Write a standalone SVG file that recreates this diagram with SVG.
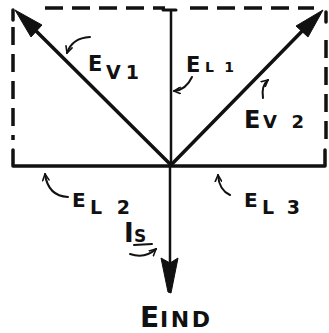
<svg xmlns="http://www.w3.org/2000/svg" width="329" height="333" viewBox="0 0 329 333">
<style>
.ln{stroke:#111;fill:none;stroke-linecap:round;stroke-linejoin:round}
.ds{stroke:#111;fill:none;stroke-width:3.5;stroke-dasharray:18 9}
.hd{fill:#111;stroke:#111;stroke-width:1;stroke-linejoin:round}
.cv{stroke:#111;fill:none;stroke-width:2;stroke-linecap:round;marker-end:url(#ch)}
.t{font-family:"DejaVu Sans","Liberation Sans",sans-serif;font-weight:bold;fill:#111}
</style>
<defs>
<marker id="ch" viewBox="0 0 10 10" refX="9" refY="5" markerWidth="4" markerHeight="4" orient="auto" markerUnits="strokeWidth">
<path d="M1,1 L9,5 L1,9" fill="none" stroke="#111" stroke-width="2" stroke-linecap="round"/>
</marker>
</defs>
<rect width="329" height="333" fill="#fff"/>
<g id="frame">
<path class="ds" d="M45,8 L165,8"/>
<path class="ds" d="M190,8 L314,8"/>
<path class="ds" d="M13,27 L13,140"/>
<path class="ds" d="M326,40 L326,140"/>
<path class="ln" stroke-width="3.5" d="M13,10 L13,20"/>
<path class="ln" stroke-width="3.5" d="M326,12 L326,22"/>
<path class="ln" stroke-width="3.5" d="M13,150 L13,166 L325,166 L325,150"/>
</g>
<g id="connectors">
<path class="ln" stroke-width="3.5" d="M171,165 L26,21"/>
<path class="hd" d="M15,10 L42,25 L31,37 Z"/>
<path class="ln" stroke-width="3.5" d="M171,165 L313,20"/>
<path class="hd" d="M323,10 L308,37 L296,26 Z"/>
<path class="ln" stroke-width="2.5" d="M171,11 L171,165"/>
<path class="ln" stroke-width="3" d="M163,10 L176,10"/>
<path class="ln" stroke-width="2.5" d="M170,165 L170,262"/>
<path class="hd" d="M161,258 L170,263 L178,258 L171,293 L168,292 Z"/>
</g>
<g id="E_V1">
<path class="cv" d="M90,37 Q72,38 67,53"/>
<text class="t"><tspan x="88" y="71" font-size="21">E</tspan><tspan x="106" y="79" font-size="19" textLength="33" lengthAdjust="spacing">V1</tspan></text>
</g>
<g id="E_L1">
<path class="cv" d="M192,77 Q186,90 174,91"/>
<text class="t"><tspan x="186" y="72" font-size="21">E</tspan><tspan x="205" y="72" font-size="14" textLength="29" lengthAdjust="spacing">L1</tspan></text>
</g>
<g id="E_V2">
<path class="cv" d="M263,98 Q261,86 268,80"/>
<text class="t"><tspan x="244" y="128" font-size="24">E</tspan><tspan x="263" y="128" font-size="18" textLength="41" lengthAdjust="spacing">V2</tspan></text>
</g>
<g id="E_L2">
<path class="cv" d="M68,197 Q48,196 45,174"/>
<text class="t"><tspan x="72" y="207" font-size="20">E</tspan><tspan x="90" y="214" font-size="19" textLength="40" lengthAdjust="spacing">L2</tspan></text>
</g>
<g id="E_L3">
<path class="cv" d="M230,195 Q219,190 218,175"/>
<text class="t"><tspan x="244" y="207" font-size="20">E</tspan><tspan x="262" y="214" font-size="19" textLength="38" lengthAdjust="spacing">L3</tspan></text>
</g>
<g id="I_S">
<path class="cv" d="M130,254 Q145,259 156,249"/>
<text class="t"><tspan x="124" y="242" font-size="26">I</tspan><tspan x="134" y="242" font-size="17">S</tspan></text>
<path class="ln" stroke-width="2" d="M134,245 L152,244"/>
</g>
<g id="E_IND">
<text class="t"><tspan x="140" y="327" font-size="28">E</tspan><tspan x="160" y="327" font-size="22" textLength="50" lengthAdjust="spacing">IND</tspan></text>
</g>
</svg>
